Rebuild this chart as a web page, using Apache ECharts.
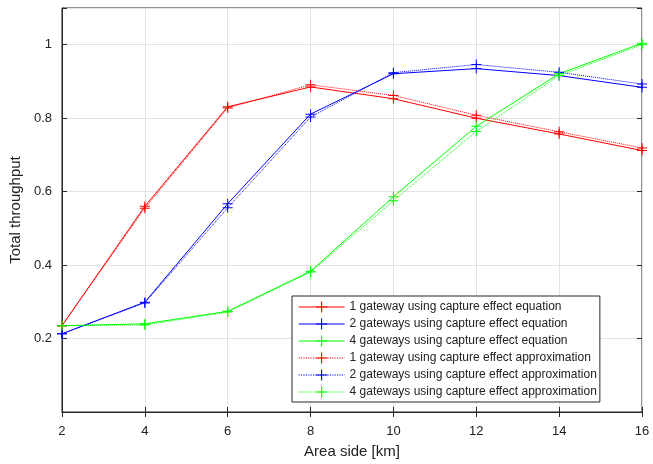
<!DOCTYPE html>
<html>
<head>
<meta charset="utf-8">
<script src="https://cdn.jsdelivr.net/npm/echarts@6/dist/echarts.min.js"></script>
<style>
  html, body { margin: 0; padding: 0; background: #fff; }
  #chart { width: 653px; height: 464px; }
</style>
</head>
<body>
<div id="chart"></div>
<script>
// area side in km
const areaSide = [2, 4, 6, 8, 10, 12, 14, 16];

// throughput, capture effect equation
const gw1Equation = [0.235, 0.560, 0.831, 0.885, 0.853, 0.800, 0.757, 0.712];
const gw2Equation = [0.213, 0.299, 0.567, 0.811, 0.921, 0.935, 0.916, 0.884];
const gw4Equation = [0.235, 0.240, 0.274, 0.383, 0.586, 0.778, 0.921, 1.004];

// throughput, capture effect approximation
const gw1Approx = [0.235, 0.555, 0.828, 0.891, 0.862, 0.808, 0.763, 0.719];
const gw2Approx = [0.213, 0.297, 0.556, 0.803, 0.924, 0.946, 0.925, 0.893];
const gw4Approx = [0.235, 0.237, 0.272, 0.381, 0.575, 0.764, 0.916, 1.000];

const seriesNames = [
  '1 gateway using capture effect equation',
  '2 gateways using capture effect equation',
  '4 gateways using capture effect equation',
  '1 gateway using capture effect approximation',
  '2 gateways using capture effect approximation',
  '4 gateways using capture effect approximation'
];

const yTickLabels = ['0.2', '0.4', '0.6', '0.8', '1'];

const RED = '#ff0000', BLUE = '#0000ff', GREEN = '#00ff00';
const plusMark = 'path://M4.5,0 h1 v10 h-1 z M0,4.5 h10 v1 h-10 z';

function makeSeries(name, values, color, dotted) {
  return {
    name: name,
    type: 'line',
    data: areaSide.map((x, i) => [x, values[i]]),
    symbol: plusMark,
    symbolSize: 10,
    showAllSymbol: true,
    lineStyle: { color: color, width: 1, type: dotted ? 'dotted' : 'solid' },
    itemStyle: { color: color },
    emphasis: { disabled: true },
    animation: false
  };
}

const chart = echarts.init(document.getElementById('chart'));
const font = 'Liberation Sans, Arial, sans-serif';

chart.setOption({
  backgroundColor: '#fff',
  textStyle: { fontFamily: font },
  grid: {
    left: 59, right: 11, top: 8, bottom: 52,
    show: true, borderColor: '#262626', borderWidth: 1
  },
  legend: {
    orient: 'vertical',
    left: 292, top: 296,
    padding: [5, 3, 4, 6],
    itemGap: 5,
    itemWidth: 46,
    itemHeight: 14,
    backgroundColor: '#fff',
    borderColor: '#262626',
    borderWidth: 1,
    borderRadius: 0,
    lineStyle: { width: 1.2 },
    textStyle: { fontSize: 12, color: '#222', fontFamily: font },
    data: seriesNames
  },
  xAxis: [{
    type: 'value', min: 2, max: 16, interval: 2,
    name: 'Area side [km]', nameLocation: 'middle', nameGap: 32,
    nameTextStyle: { fontSize: 15, color: '#222' },
    axisLine: { onZero: false, lineStyle: { color: '#262626' } },
    axisTick: { inside: true, length: 5, lineStyle: { color: '#262626' } },
    axisLabel: { fontSize: 13, color: '#222', margin: 13 },
    splitLine: { show: true, lineStyle: { color: '#e3e3e3' } }
  }, {
    type: 'value', min: 2, max: 16, interval: 2, position: 'top',
    axisLine: { show: false },
    axisTick: { inside: true, length: 5, lineStyle: { color: '#262626' } },
    axisLabel: { show: false },
    splitLine: { show: false }
  }],
  yAxis: [{
    type: 'value', min: 0, max: 1.1, interval: 0.2,
    name: 'Total throughput', nameLocation: 'middle', nameGap: 35,
    nameTextStyle: { fontSize: 15, color: '#222' },
    axisLine: { show: true, onZero: false, lineStyle: { color: '#262626' } },
    axisTick: { inside: true, length: 5, lineStyle: { color: '#262626' } },
    axisLabel: {
      fontSize: 13, color: '#222', margin: 10,
      formatter: v => {
        const s = String(Math.round(v * 10) / 10);
        return yTickLabels.indexOf(s) >= 0 ? s : '';
      }
    },
    splitLine: { show: true, lineStyle: { color: '#e3e3e3' } }
  }, {
    type: 'value', min: 0, max: 1.1, interval: 0.2, position: 'right',
    axisLine: { show: false },
    axisTick: { inside: true, length: 5, lineStyle: { color: '#262626' } },
    axisLabel: { show: false },
    splitLine: { show: false }
  }],
  series: [
    makeSeries(seriesNames[0], gw1Equation, RED, false),
    makeSeries(seriesNames[1], gw2Equation, BLUE, false),
    makeSeries(seriesNames[2], gw4Equation, GREEN, false),
    makeSeries(seriesNames[3], gw1Approx, RED, true),
    makeSeries(seriesNames[4], gw2Approx, BLUE, true),
    makeSeries(seriesNames[5], gw4Approx, GREEN, true)
  ]
});
</script>
</body>
</html>
